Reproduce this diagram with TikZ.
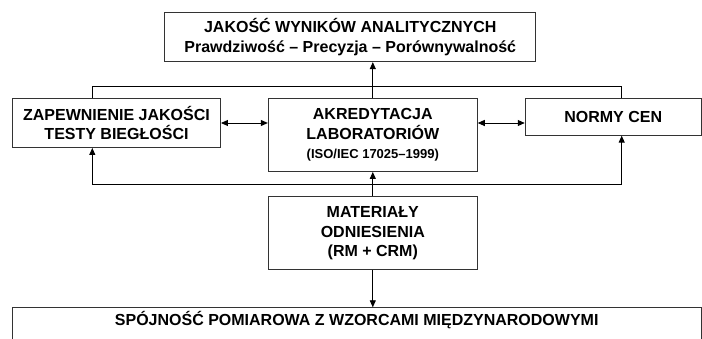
\documentclass[tikz,border=0pt]{standalone}
\usepackage{fontspec}
\setmainfont{Liberation Sans}
\usetikzlibrary{arrows.meta}

\tikzset{
  box/.style={draw=black!80, line width=0.9pt, align=center, inner sep=0pt,
    font=\bfseries\fontsize{16}{19.5}\selectfont},
  link/.style={line width=0.9pt},
  oneway/.style={link, -{Triangle[length=7pt,width=6pt]}},
  twoway/.style={link, {Triangle[length=7pt,width=6pt]}-{Triangle[length=7pt,width=6pt]}},
}

\begin{document}
\begin{tikzpicture}[x=1pt, y=-1pt]
\path[use as bounding box, clip] (0,0) rectangle (702,339);

\node[box, minimum width=371pt, minimum height=49pt] (quality) at (350.3, 37.2)
  {JAKOŚĆ WYNIKÓW ANALITYCZNYCH\\Prawdziwość -- Precyzja -- Porównywalność};
\node[box, minimum width=208pt, minimum height=49pt] (assurance) at (116.5, 123)
  {ZAPEWNIENIE JAKOŚCI\\TESTY BIEGŁOŚCI};
\node[box, minimum width=209pt, minimum height=73pt] (accred) at (372.8, 135)
  {AKREDYTACJA\\LABORATORIÓW\\{\fontsize{13}{16}\selectfont (ISO/IEC 17025--1999)}};
\node[box, minimum width=176pt, minimum height=37pt] (norms) at (613.2, 116.7)
  {NORMY CEN};
\node[box, minimum width=209pt, minimum height=73pt] (materials) at (372.8, 233.3)
  {MATERIAŁY\\ODNIESIENIA\\(RM + CRM)};
\node[box, anchor=north, minimum width=689pt, inner ysep=4pt, text height=14pt, text depth=40pt]
  (trace) at (356.7, 307.3) {SPÓJNOŚĆ POMIAROWA Z WZORCAMI MIĘDZYNARODOWYMI};

% frame round the middle row
\path (92.3, 86) coordinate (tl) (621.7, 86) coordinate (tr)
      (92.3, 184.3) coordinate (bl) (621.7, 184.3) coordinate (br);
\draw[link] (assurance.north -| tl) -- (tl) -- (tr) -- (norms.north -| tr);
\draw[link] (bl) -- (br);
\draw[oneway] (bl) -- (assurance.south -| bl);
\draw[oneway] (br) -- (norms.south -| br);

\draw[oneway] (accred.north) -- (accred.north |- quality.south);
\draw[twoway] (assurance.east) -- (assurance.east -| accred.west);
\draw[twoway] (accred.east |- assurance.east) -- (assurance.east -| norms.west);
\draw[oneway] (materials.north) -- (accred.south);
\draw[oneway] (materials.south) -- (materials.south |- trace.north);
\end{tikzpicture}
\end{document}
